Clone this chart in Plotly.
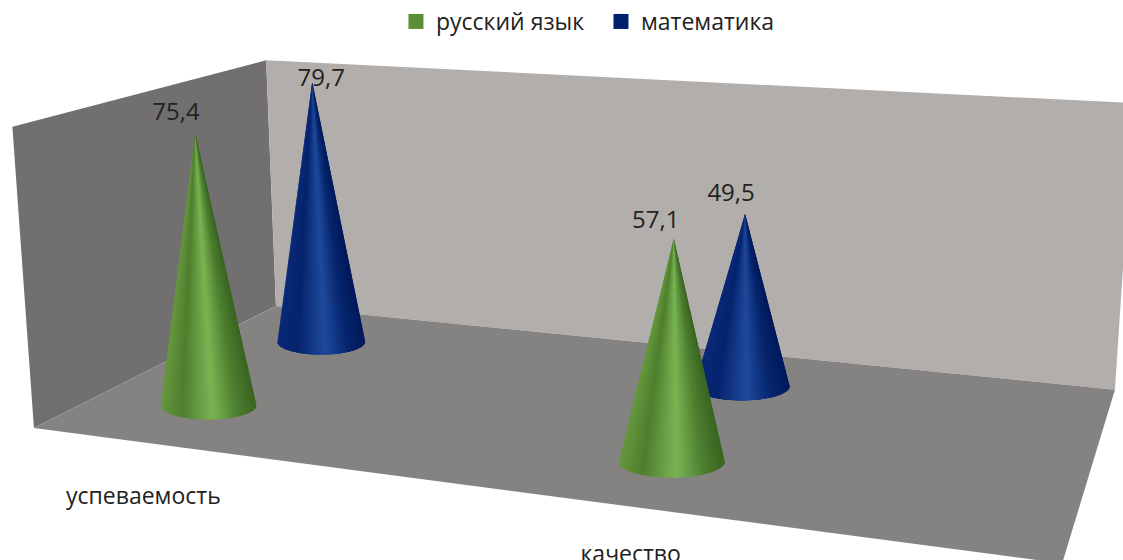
import numpy as np
import plotly.graph_objects as go

# ---- data ----
categories = ["успеваемость", "качество"]
series_names = ["русский язык", "математика"]
russian = [75.4, 57.1]
math_vals = [79.7, 49.5]
value_labels_ru = ["75,4", "57,1"]
value_labels_ma = ["79,7", "49,5"]

# ---- scene scale ----
Z_MAX = 80.6
X_SLOT = [0.252, 1.255]  # category slots
Y_SLOT = [0.5, 1.51]     # series slots (front, back)
R_X = [0.114, 0.105]
ELLIPSE = 0.3
# calibration of the 3D box -> screen projection
BOX3D = np.array([[0,0,0],[2,0,0],[0,2,0],[2,2,0],[0,0,Z_MAX],[0,2,Z_MAX],[2,2,Z_MAX]], float)
BOX2D = np.array([[34,429],[1062,563],[276,305],[1115,390],[12.5,126],[266,61],[1134,103]], float)

def fit(p3, p2):
    A = []
    for (X, Y, Z), (u, v) in zip(p3, p2):
        A.append([X, Y, Z, 1, 0, 0, 0, 0, -u*X, -u*Y, -u*Z, -u])
        A.append([0, 0, 0, 0, X, Y, Z, 1, -v*X, -v*Y, -v*Z, -v])
    return np.linalg.svd(np.array(A))[2][-1].reshape(3, 4)

S = np.diag([1, 1, 1/Z_MAX, 1.0])
P = fit(BOX3D @ S[:3, :3], BOX2D) @ S

def proj(x, y, z):
    h = P @ np.array([x, y, z, 1.0])
    return h[:2] / h[2]

def hexrgb(h):
    return np.array([int(h[i:i+2], 16) for i in (1, 3, 5)], float)

STOPS = [-1, -0.55, 0.1, 0.6, 1]
GREEN = ["#66993f", "#4f7f2e", "#7ab554", "#4f8030", "#3a6622"]
BLUE = ["#0a2a78", "#06246e", "#1f4a9c", "#07266e", "#021a5c"]

def shade(pal, u):
    c = [np.interp(u, STOPS, [hexrgb(k)[i] for k in pal]) for i in range(3)]
    return "rgb(%d,%d,%d)" % tuple(c)

fig = go.Figure()

def poly(pts, color, lw=0):
    a = np.array(pts + [pts[0]])
    fig.add_trace(go.Scatter(x=a[:, 0], y=a[:, 1], mode="lines", fill="toself", fillcolor=color,
                             line=dict(color=color, width=lw), showlegend=False, hoverinfo="skip"))

poly([proj(0,0,0), proj(0,2,0), proj(0,2,Z_MAX), proj(0,0,Z_MAX)], "#716f70")
poly([proj(0,2,0), proj(2,2,0), proj(2,2,Z_MAX), proj(0,2,Z_MAX)], "#b2aeac")
poly([proj(0,0,0), proj(2,0,0), proj(2,2,0), proj(0,2,0)], "#858382")

def cone(x, y, val, r, pal):
    C = proj(x, y, 0)
    L, R = proj(x - r, y, 0), proj(x + r, y, 0)
    w = (R[0] - L[0]) / 2
    T = proj(x, y, val)
    n = 60
    phi = np.linspace(np.pi, 0, n + 1)
    for i in range(n):
        j = min(i + 3, n)      # each slice overlaps the next ones, so no seams show
        pts = [C + np.array([w*np.cos(p), w*ELLIPSE*np.sin(p)]) for p in phi[i:j+1]]
        u = np.cos((phi[i] + phi[i+1]) / 2)
        poly([T] + pts, shade(pal, u))

cone(X_SLOT[0], Y_SLOT[1], math_vals[0], R_X[0], BLUE)
cone(X_SLOT[1], Y_SLOT[1], math_vals[1], R_X[1], BLUE)
cone(X_SLOT[0], Y_SLOT[0], russian[0], R_X[0], GREEN)
cone(X_SLOT[1], Y_SLOT[0], russian[1], R_X[1], GREEN)

# value labels, offset from each tip
OFF_RU = [(-19, -19), (-18, -17)]
OFF_MA = [(9, -2), (-14, -19)]
lx, ly, lt = [], [], []
for i in range(2):
    t = proj(X_SLOT[i], Y_SLOT[0], russian[i]); lx.append(t[0]+OFF_RU[i][0]); ly.append(t[1]+OFF_RU[i][1]); lt.append(value_labels_ru[i])
    t = proj(X_SLOT[i], Y_SLOT[1], math_vals[i]); lx.append(t[0]+OFF_MA[i][0]); ly.append(t[1]+OFF_MA[i][1]); lt.append(value_labels_ma[i])
fig.add_trace(go.Scatter(x=lx, y=ly, text=lt, mode="text", textposition="middle center",
                         textfont=dict(family="Open Sans", size=24, color="#222222"),
                         showlegend=False, hoverinfo="skip"))

# category labels, offset from the front floor edge
OFF_CAT = [(1, 56), (1, 50)]
cx, cy = [], []
for i in range(2):
    t = proj(X_SLOT[i], 0, 0); cx.append(t[0]+OFF_CAT[i][0]); cy.append(t[1]+OFF_CAT[i][1])
fig.add_trace(go.Scatter(x=cx, y=cy, text=categories, mode="text", textposition="middle center",
                         textfont=dict(family="Open Sans", size=23, color="#222222"),
                         showlegend=False, hoverinfo="skip", cliponaxis=False))

for name, col in zip(series_names, ["#5b8f35", "#00206b"]):
    fig.add_trace(go.Scatter(x=[None], y=[None], mode="markers", name=name,
                             marker=dict(symbol="square", size=15, color=col)))

fig.update_layout(
    width=1123, height=560, margin=dict(l=0, r=0, t=0, b=0),
    paper_bgcolor="white", plot_bgcolor="white",
    xaxis=dict(range=[0, 1123], visible=False, fixedrange=True),
    yaxis=dict(range=[560, 0], visible=False, fixedrange=True),
    legend=dict(orientation="h", x=0.3526, y=1.0, xanchor="left", yanchor="top", itemsizing="trace",
                entrywidth=160, entrywidthmode="pixels",
                font=dict(family="Open Sans", size=23, color="#222222"), bgcolor="rgba(0,0,0,0)"),
)
fig.write_html("out.html", post_script="document.body.style.margin='0';",
               config={"displayModeBar": False})
